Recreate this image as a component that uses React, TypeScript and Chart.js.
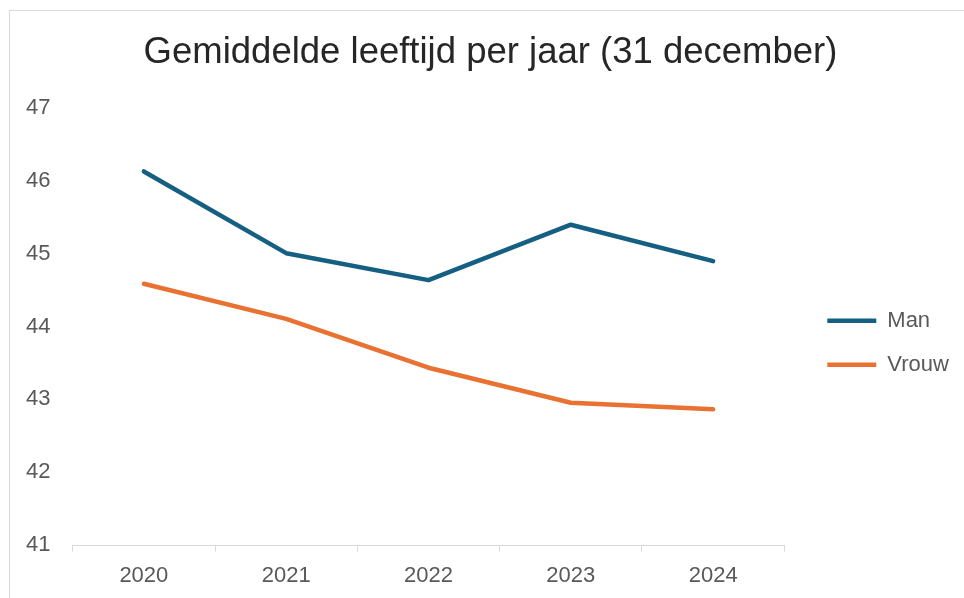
import React, { useEffect, useRef } from "react";
import { Chart, registerables } from "chart.js";

Chart.register(...registerables);

// ---- data ----
const categories = ["2020", "2021", "2022", "2023", "2024"];
const seriesNames = ["Man", "Vrouw"];
const manValues = [46.13, 45.01, 44.64, 45.4, 44.9];
const vrouwValues = [44.59, 44.11, 43.44, 42.96, 42.87];
const yMin = 41;
const yMax = 47;
const yStep = 1;
const titleText = "Gemiddelde leeftijd per jaar (31 december)";

// ---- styles ----
const FONT = "'Liberation Sans', Arial, sans-serif";
const BLUE = "#156082";
const ORANGE = "#E97132";
const TICK_COLOR = "#595959";
const AXIS_COLOR = "#d9d9d9";
const TITLE_COLOR = "#262626";

const LEGEND_FIRST_Y = 320.7;
const LEGEND_LINE_X = 827.3;
const TITLE_CX = 490.5;
const LEGEND_FONT = 22;

const placeBoxes = {
  id: "placeBoxes",
  afterLayout(chart: any) {
    const lg: any = chart.legend;
    if (lg && lg.columnSizes && lg.columnSizes.length) {
      const pad = lg.options.labels.padding;
      const curY = (lg.top + pad + lg.bottom - lg.columnSizes[0].height) / 2;
      const dy = LEGEND_FIRST_Y - (curY + LEGEND_FONT / 2);
      lg.top += dy;
      lg.bottom += dy;
      const dx = LEGEND_LINE_X - (lg.left + pad);
      lg.left += dx;
      lg.right = chart.width;
      lg.width = lg.right - lg.left;
    }
    const tb: any = chart.titleBlock;
    if (tb) {
      const dx = TITLE_CX - (tb.left + tb.right) / 2;
      tb.left += dx;
      tb.right += dx;
    }
  },
};

export default function App() {
  const ref = useRef<HTMLCanvasElement | null>(null);

  useEffect(() => {
    if (!ref.current) return;
    const chart = new Chart(ref.current, {
      type: "line",
      data: {
        labels: categories,
        datasets: [
          {
            label: seriesNames[0],
            data: manValues,
            borderColor: BLUE,
            backgroundColor: BLUE,
            borderWidth: 4.5,
            borderCapStyle: "round",
            borderJoinStyle: "round",
            pointRadius: 0,
            tension: 0,
          },
          {
            label: seriesNames[1],
            data: vrouwValues,
            borderColor: ORANGE,
            backgroundColor: ORANGE,
            borderWidth: 4.5,
            borderCapStyle: "round",
            borderJoinStyle: "round",
            pointRadius: 0,
            tension: 0,
          },
        ],
      },
      options: {
        responsive: false,
        animation: false,
        devicePixelRatio: 1,
        layout: { padding: { left: 20, right: 59.7, top: 0, bottom: 0 } },
        plugins: {
          tooltip: { enabled: false },
          title: {
            display: true,
            text: titleText,
            color: TITLE_COLOR,
            font: { family: FONT, size: 36.5, weight: "normal" },
            padding: { top: 31.5, bottom: 32.7 },
          },
          legend: {
            display: true,
            position: "right",
            align: "center",
            maxWidth: 120,
            labels: {
              usePointStyle: true,
              pointStyle: "line",
              pointStyleWidth: 49,
              padding: 22,
              color: TICK_COLOR,
              font: { family: FONT, size: LEGEND_FONT },
            },
          },
        },
        scales: {
          x: {
            type: "category",
            offset: true,
            grid: {
              display: true,
              offset: true,
              drawOnChartArea: false,
              drawTicks: true,
              tickLength: 6,
              color: AXIS_COLOR,
              lineWidth: 1,
            },
            border: { display: true, color: AXIS_COLOR, width: 1 },
            ticks: {
              color: TICK_COLOR,
              font: { family: FONT, size: 22 },
              padding: 11,
              maxRotation: 0,
              autoSkip: false,
            },
            afterFit: (s: any) => {
              s.height = 52.3;
            },
          },
          y: {
            min: yMin,
            max: yMax,
            grid: { display: false, drawTicks: false },
            border: { display: false },
            ticks: {
              stepSize: yStep,
              color: TICK_COLOR,
              font: { family: FONT, size: 22 },
              padding: 22.2,
              labelOffset: -0.4,
            },
            afterFit: (s: any) => {
              s.width = 52.7;
            },
          },
        },
      },
      plugins: [placeBoxes],
    });
    return () => chart.destroy();
  }, []);

  return (
    <div
      style={{
        position: "fixed",
        left: 0,
        top: 0,
        width: 964,
        height: 598,
        background: "#fff",
        overflow: "hidden",
      }}
    >
      <div
        style={{
          position: "absolute",
          left: 9,
          top: 10,
          width: 964,
          height: 598,
          borderTop: "1px solid #d9d9d9",
          borderLeft: "1px solid #d9d9d9",
        }}
      />
      <canvas
        ref={ref}
        width={964}
        height={598}
        style={{ position: "absolute", left: 0, top: 0, width: 964, height: 598 }}
      />
    </div>
  );
}
